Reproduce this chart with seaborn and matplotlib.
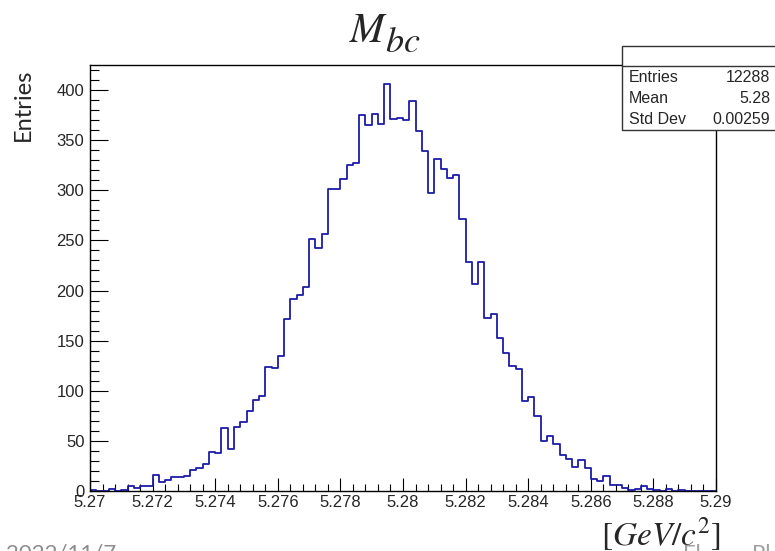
import numpy as np
import pandas as pd
import matplotlib
matplotlib.use("Agg")
import matplotlib.pyplot as plt
import seaborn as sns
from matplotlib.patches import Rectangle
from matplotlib.ticker import MultipleLocator

# ---- data (100 bins, 5.27 - 5.29) ----
x_min, x_max, n_bins = 5.27, 5.29, 100
counts = [
    1, 0, 0, 2, 0, 1, 5, 3, 5, 5,
    16, 9, 11, 14, 14, 15, 21, 23, 27, 39,
    38, 63, 42, 64, 69, 80, 91, 95, 124, 123,
    135, 172, 192, 196, 204, 251, 242, 256, 301, 301,
    311, 325, 327, 375, 365, 376, 366, 406, 371, 372,
    370, 389, 359, 339, 297, 331, 321, 312, 315, 271,
    228, 207, 228, 173, 177, 153, 138, 125, 122, 90,
    94, 75, 50, 55, 47, 36, 32, 24, 31, 23,
    12, 10, 15, 6, 6, 3, 1, 2, 5, 2,
    1, 0, 2, 0, 1, 0, 0, 0, 0, 0,
]
xtick_vals = [5.27, 5.272, 5.274, 5.276, 5.278, 5.28, 5.282, 5.284, 5.286, 5.288, 5.29]
xtick_labels = ["5.27", "5.272", "5.274", "5.276", "5.278", "5.28", "5.282", "5.284", "5.286", "5.288", "5.29"]
ytick_vals = [0, 50, 100, 150, 200, 250, 300, 350, 400]
stats_names = ["Entries", "Mean", "Std Dev"]
stats_values = ["12288", "5.28", "0.00259"]

edges = np.linspace(x_min, x_max, n_bins + 1)
centers = 0.5 * (edges[:-1] + edges[1:])
df = pd.DataFrame({"mbc": centers, "n": np.asarray(counts, dtype=float)})

sns.set_theme(style="white")
plt.rcParams["font.family"] = ["Liberation Sans", "DejaVu Sans"]
plt.rcParams["mathtext.fontset"] = "stix"

W, H = 775, 551
fig = plt.figure(figsize=(W / 100, H / 100), dpi=100)
ax = fig.add_axes([90 / W, 1 - 491 / H, (716 - 90) / W, (491 - 65) / H])

sns.histplot(data=df, x="mbc", weights="n", bins=n_bins, binrange=(x_min, x_max),
             element="step", fill=False, color="#1c1ca8", linewidth=1.3, ax=ax)

ax.set_xlim(x_min, x_max)
ax.set_ylim(0, 425)
ax.set_xticks(xtick_vals)
ax.set_xticklabels(xtick_labels)
ax.set_yticks(ytick_vals)
ax.xaxis.set_minor_locator(MultipleLocator(0.0004))
ax.yaxis.set_minor_locator(MultipleLocator(10))
ax.tick_params(axis="x", which="major", direction="in", length=9.5, width=0.8,
               labelsize=12, pad=3, color="black", bottom=True, top=False)
ax.tick_params(axis="x", which="minor", direction="in", length=4.7, width=0.8,
               bottom=True, top=False, color="black")
ax.tick_params(axis="y", which="major", direction="in", length=13, width=0.8,
               labelsize=12, pad=4, color="black", left=True, right=False)
ax.tick_params(axis="y", which="minor", direction="in", length=6.5, width=0.8,
               left=True, right=False, color="black")
for s in ax.spines.values():
    s.set_color("black")
    s.set_linewidth(1.0)
    s.set_visible(True)
ax.set_xlabel("")
ax.set_ylabel("")
ax.grid(False)

# title  M_bc (large subscript as in the reference)
fig.text(349 / W, 1 - 42 / H, r"$M$", fontsize=30, ha="left", va="baseline")
fig.text(385 / W, 1 - 52 / H, r"$bc$", fontsize=26, ha="left", va="baseline")
# y label
fig.text(23 / W, 1 - 69 / H, "Entries", rotation=90, fontsize=17, ha="center",
         va="top", family=["Lato", "DejaVu Sans"])
# x label
fig.text(721 / W, 1 - 545 / H, r"$[GeV/c^2]$", fontsize=24, ha="right", va="baseline")

# footer fragments (cut by the frame)
fig.text(6 / W, 1 - 560 / H, "2022/11/7", fontsize=16, color="#8c8c8c",
         ha="left", va="baseline", family=["Lato", "DejaVu Sans"])
fig.text(683 / W, 1 - 560 / H, "Fl", fontsize=16, color="#a0a0a0",
         ha="left", va="baseline", family=["Lato", "DejaVu Sans"], zorder=0)
fig.text(752 / W, 1 - 560 / H, "Pl", fontsize=16, color="#a0a0a0",
         ha="left", va="baseline", family=["Lato", "DejaVu Sans"], zorder=0)

# stats box
bx0, by_top, by_div, by_bot = 622, 46, 66, 130
rect = Rectangle((bx0 / W, 1 - by_bot / H), (W + 10 - bx0) / W, (by_bot - by_top) / H,
                 transform=fig.transFigure, facecolor="white", edgecolor="#333333",
                 linewidth=1.0, zorder=5)
fig.add_artist(rect)
fig.add_artist(plt.Line2D([bx0 / W, 1.01], [1 - by_div / H, 1 - by_div / H],
                          transform=fig.transFigure, color="#333333", linewidth=1.0, zorder=6))
for i, (nm, val) in enumerate(zip(stats_names, stats_values)):
    yc = 1 - (78 + 21 * i) / H
    fig.text(629 / W, yc, nm, fontsize=11.5, ha="left", va="center", zorder=7)
    fig.text(770 / W, yc, val, fontsize=11.5, ha="right", va="center", zorder=7)

fig.savefig("out.png", dpi=100)
